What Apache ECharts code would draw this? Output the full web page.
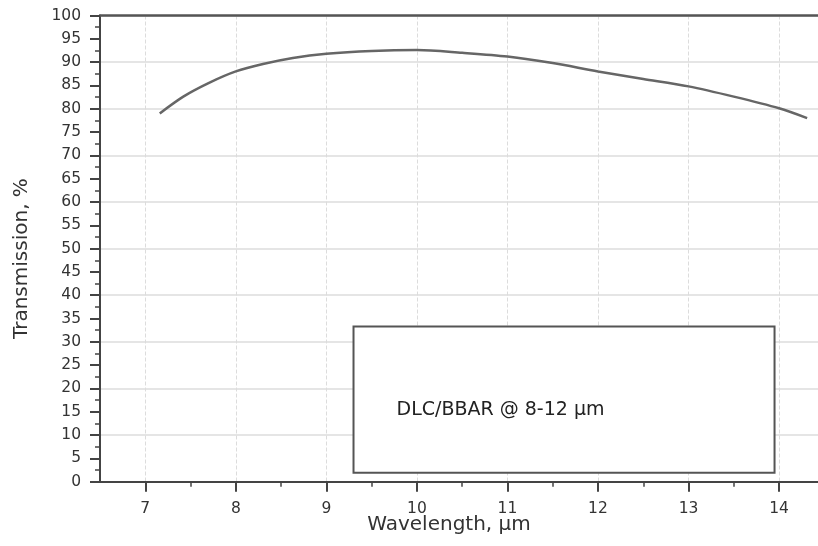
<!DOCTYPE html>
<html>
<head>
<meta charset="utf-8">
<script src="https://cdn.jsdelivr.net/npm/echarts@6/dist/echarts.min.js"></script>
<style>
html,body{margin:0;padding:0;background:#fff;}
#c{width:818px;height:546px;}
</style>
</head>
<body>
<div id="c"></div>
<script>
var wavelength = [7.16, 7.42, 7.71, 8.0, 8.3, 8.63, 9.0, 9.5, 10, 10.5, 11, 11.5, 12, 12.5, 13, 13.5, 14, 14.31];
var transmission = [79.0, 82.6, 85.6, 88.0, 89.6, 90.9, 91.8, 92.4, 92.6, 92.0, 91.2, 89.8, 88.0, 86.4, 84.8, 82.6, 80.1, 78.0];
var xMajorTicks = [7, 8, 9, 10, 11, 12, 13, 14];
var xMinorTicks = [7.5, 8.5, 9.5, 10.5, 11.5, 12.5, 13.5];
var annotationText = 'DLC/BBAR @ 8-12 µm';
var annotationBox = [[9.3, 1.9], [13.95, 33.3]];

var font = 'DejaVu Sans, Liberation Sans, Arial, sans-serif';
var xMin = 6.5, xMax = 14.43;
var chart = echarts.init(document.getElementById('c'));
chart.setOption({
  animation: false,
  backgroundColor: '#fff',
  grid: {left: 100, right: 0, top: 15.5, bottom: 64.3, containLabel: false, outerBoundsMode: 'none'},
  xAxis: [
    {
      type: 'value', min: xMin, max: xMax, position: 'bottom',
      axisLine: {show: true, onZero: false, lineStyle: {color: '#444', width: 2}},
      axisTick: {show: true, customValues: xMajorTicks, length: 10, lineStyle: {color: '#444', width: 2}},
      axisLabel: {show: true, customValues: xMajorTicks, margin: 19, color: '#333', fontSize: 15.5, fontFamily: font},
      splitLine: {show: true, lineStyle: {color: '#dcdcdc', width: 1, type: [4, 2]}},
      name: 'Wavelength, µm', nameLocation: 'middle', nameGap: 33, nameMoveOverlap: false,
      nameTextStyle: {color: '#333', fontSize: 20, fontFamily: font, padding: [0, 20, 0, 0]}
    },
    {
      type: 'value', min: xMin, max: xMax, position: 'bottom',
      axisLine: {show: false},
      axisTick: {show: true, customValues: xMinorTicks, length: 5, lineStyle: {color: '#444', width: 1.5}},
      axisLabel: {show: false},
      splitLine: {show: false}
    },
    {
      type: 'value', min: xMin, max: xMax, position: 'top',
      axisLine: {show: true, onZero: false, lineStyle: {color: '#555', width: 2.5}},
      axisTick: {show: false}, axisLabel: {show: false}, splitLine: {show: false}
    }
  ],
  yAxis: [
    {
      type: 'value', min: 0, max: 100, interval: 5, position: 'left',
      axisLine: {show: true, onZero: false, lineStyle: {color: '#444', width: 2}},
      axisTick: {show: true, length: 10, lineStyle: {color: '#444', width: 2}},
      minorTick: {show: true, splitNumber: 2, length: 5, lineStyle: {color: '#444', width: 1.5}},
      axisLabel: {margin: 19, color: '#333', fontSize: 15.5, fontFamily: font},
      splitLine: {show: false},
      name: 'Transmission, %', nameLocation: 'middle', nameGap: 68, nameRotate: 90, nameMoveOverlap: false,
      nameTextStyle: {color: '#333', fontSize: 20, fontFamily: font, padding: [0, 20, 0, 0]}
    },
    {
      type: 'value', min: 0, max: 100, interval: 10, position: 'left',
      axisLine: {show: false}, axisTick: {show: false}, axisLabel: {show: false},
      splitLine: {show: true, lineStyle: {color: '#dcdcdc', width: 1.5}}
    }
  ],
  series: [{
    type: 'line',
    xAxisIndex: 0, yAxisIndex: 0,
    data: wavelength.map(function (w, i) { return [w, transmission[i]]; }),
    smooth: 0.3,
    showSymbol: false,
    lineStyle: {color: '#666', width: 2.5},
    markArea: {
      silent: true,
      itemStyle: {color: '#fff', borderColor: '#555', borderWidth: 2},
      label: {
        show: true, position: 'insideLeft', distance: 44, offset: [0, 10],
        color: '#222', fontSize: 19, fontFamily: font
      },
      data: [[
        {name: annotationText, coord: annotationBox[0]},
        {coord: annotationBox[1]}
      ]]
    }
  }]
});
</script>
</body>
</html>
